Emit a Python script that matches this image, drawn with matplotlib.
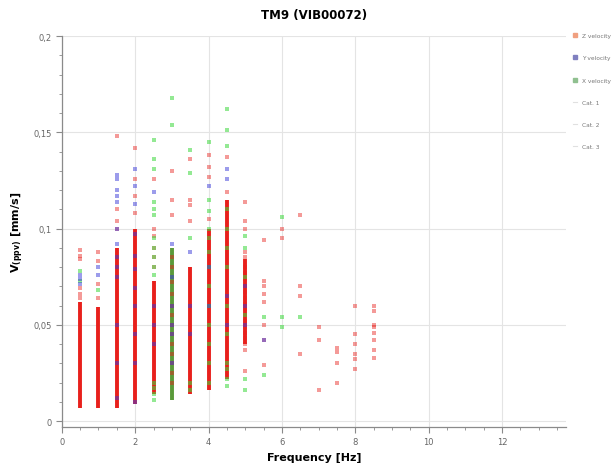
import matplotlib
matplotlib.use("Agg")
import matplotlib.pyplot as plt
from matplotlib.lines import Line2D
from matplotlib.ticker import FuncFormatter, MultipleLocator

# dense (saturated) part of each red column: frequency, low, high [mm/s]
z_band_f = [0.5, 1.0, 1.5, 2.0, 2.5, 3.5, 4.0, 4.5, 5.0]
z_band_lo = [0.007, 0.007, 0.007, 0.009, 0.014, 0.014, 0.016, 0.022, 0.040]
z_band_hi = [0.062, 0.059, 0.090, 0.100, 0.073, 0.080, 0.100, 0.115, 0.084]

x_band_f = [3.0]
x_band_lo = [0.011]
x_band_hi = [0.090]

# single readings outside the dense parts
z_f = ([0.5] * 6 + [1.0] * 4 + [1.5] * 4 + [2.0] * 4 + [2.5] * 6 + [3.0] * 16
       + [3.5] * 4 + [4.0] * 4 + [4.5] * 2 + [5.0] * 21 + [5.5] * 8 + [6.0] * 2
       + [6.5] * 4 + [7.0] * 3 + [7.5] * 4 + [8.0] * 6 + [8.5] * 8)
z_v = [0.089, 0.086, 0.084, 0.069, 0.066, 0.064,
       0.088, 0.083, 0.071, 0.064,
       0.148, 0.110, 0.104, 0.100,
       0.142, 0.126, 0.117, 0.108,
       0.126, 0.100, 0.096, 0.090, 0.085, 0.080,
       0.130, 0.115, 0.107, 0.085, 0.080, 0.072, 0.066, 0.060, 0.055, 0.050,
       0.045, 0.040, 0.035, 0.030, 0.025, 0.020,
       0.136, 0.115, 0.112, 0.104,
       0.138, 0.132, 0.127, 0.105,
       0.137, 0.119,
       0.114, 0.104, 0.100, 0.088, 0.085, 0.080, 0.077, 0.074, 0.070, 0.067,
       0.064, 0.061, 0.058, 0.055, 0.052, 0.049, 0.046, 0.043, 0.040, 0.037,
       0.026,
       0.094, 0.073, 0.070, 0.066, 0.062, 0.050, 0.042, 0.029,
       0.100, 0.095,
       0.107, 0.070, 0.065, 0.035,
       0.049, 0.042, 0.016,
       0.038, 0.036, 0.030, 0.020,
       0.060, 0.045, 0.040, 0.035, 0.032, 0.027,
       0.060, 0.057, 0.050, 0.049, 0.046, 0.042, 0.037, 0.033]

y_f = ([0.5] * 3 + [1.0] * 2 + [1.5] * 13 + [2.0] * 11 + [2.5] * 4 + [3.0] * 6
       + [3.5] * 3 + [4.0] * 3 + [4.5] * 4 + [5.0] * 3 + [5.5] * 1)
y_v = [0.076, 0.074, 0.071,
       0.076, 0.080,
       0.128, 0.126, 0.120, 0.117, 0.114, 0.100, 0.092, 0.085, 0.080, 0.075,
       0.050, 0.030, 0.012,
       0.131, 0.122, 0.113, 0.097, 0.086, 0.079, 0.069, 0.060, 0.045, 0.030,
       0.010,
       0.119, 0.060, 0.050, 0.040,
       0.092, 0.075, 0.060, 0.050, 0.045, 0.030,
       0.088, 0.060, 0.045,
       0.122, 0.080, 0.060,
       0.131, 0.126, 0.065, 0.050,
       0.070, 0.060, 0.050,
       0.042]

x_f = ([0.5] * 2 + [1.0] * 1 + [2.5] * 15 + [3.0] * 2 + [3.5] * 5 + [4.0] * 13
       + [4.5] * 13 + [5.0] * 6 + [5.5] * 2 + [6.0] * 3 + [6.5] * 1)
x_v = [0.078, 0.073,
       0.068,
       0.146, 0.136, 0.131, 0.114, 0.110, 0.107, 0.095, 0.090, 0.085, 0.080,
       0.076, 0.020, 0.017, 0.014, 0.011,
       0.168, 0.154,
       0.141, 0.129, 0.095, 0.020, 0.016,
       0.145, 0.115, 0.109, 0.100, 0.095, 0.088, 0.080, 0.070, 0.060, 0.050,
       0.040, 0.030, 0.020,
       0.162, 0.151, 0.143, 0.110, 0.100, 0.090, 0.080, 0.060, 0.045, 0.030,
       0.027, 0.022, 0.018,
       0.096, 0.090, 0.075, 0.055, 0.022, 0.016,
       0.054, 0.024,
       0.106, 0.054, 0.049,
       0.054]

RED = "#e8201c"
BLUE = "#3a3ad8"
GREEN = "#3cd83c"

fig = plt.figure(figsize=(6.12, 4.64), dpi=100)
ax = fig.add_axes([0.101, 0.078, 0.824, 0.842])

ax.vlines(x_band_f, x_band_lo, x_band_hi, color="#5a9a3a", lw=2.8, zorder=2)
ax.vlines(z_band_f, z_band_lo, z_band_hi, color=RED, lw=2.8, zorder=2)
ax.scatter(z_f, z_v, s=7, marker="s", color=RED, alpha=0.45, lw=0, zorder=3)
ax.scatter(x_f, x_v, s=7, marker="s", color=GREEN, alpha=0.55, lw=0, zorder=4)
ax.scatter(y_f, y_v, s=7, marker="s", color=BLUE, alpha=0.5, lw=0, zorder=5)

ax.set_xlim(0, 13.75)
ax.set_ylim(-0.003, 0.2)
ax.xaxis.set_major_locator(MultipleLocator(2))
ax.xaxis.set_minor_locator(MultipleLocator(0.5))
ax.yaxis.set_major_locator(MultipleLocator(0.05))
ax.yaxis.set_minor_locator(MultipleLocator(0.01))
ax.yaxis.set_major_formatter(FuncFormatter(lambda v, p: f"{v:g}".replace(".", ",")))

ax.grid(True, which="major", color="#e4e4e4", lw=0.8)
ax.set_axisbelow(True)
for side in ("top", "right"):
    ax.spines[side].set_visible(False)
for side in ("left", "bottom"):
    ax.spines[side].set_color("#8a8a8a")
    ax.spines[side].set_linewidth(0.9)
ax.tick_params(which="both", colors="#8a8a8a", labelcolor="#666666", labelsize=6)
ax.tick_params(which="major", length=4)
ax.tick_params(which="minor", length=2.5)

ax.set_title("TM9 (VIB00072)", fontsize=8.5, fontweight="bold", pad=13)
ax.set_xlabel("Frequency [Hz]", fontsize=8, fontweight="bold", labelpad=4)
ax.set_ylabel(r"V$_{\mathbf{(ppv)}}$ [mm/s]", fontsize=8, fontweight="bold", labelpad=5)

handles = [
    Line2D([], [], ls="none", marker="s", ms=2.5, color="#f0a080"),
    Line2D([], [], ls="none", marker="s", ms=2.5, color="#8080c0"),
    Line2D([], [], ls="none", marker="s", ms=2.5, color="#90c090"),
    Line2D([], [], color="#e0e0e0", lw=0.8),
    Line2D([], [], color="#e0e0e0", lw=0.8),
    Line2D([], [], color="#e0e0e0", lw=0.8),
]
labels = ["Z velocity", "Y velocity", "X velocity", "Cat. 1", "Cat. 2", "Cat. 3"]
leg = fig.legend(handles, labels, loc="upper left", bbox_to_anchor=(0.932, 0.932),
                 frameon=False, fontsize=4.2, handlelength=0.8, handletextpad=0.8,
                 labelspacing=2.95, borderaxespad=0)
for t in leg.get_texts():
    t.set_color("#777777")

fig.savefig("out.png", dpi=100)
